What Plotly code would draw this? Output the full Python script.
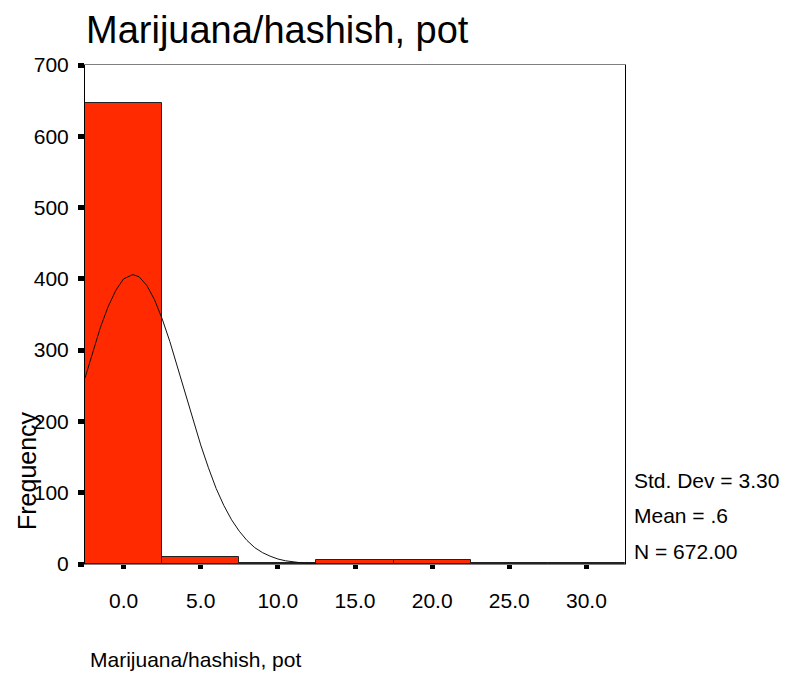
import plotly.graph_objects as go

# ---- data ----
bin_centers = [0.0, 5.0, 10.0, 15.0, 20.0, 25.0, 30.0]
frequencies = [646, 10, 2, 5, 5, 2, 2]
bin_width = 5.0

# normal curve
curve_x = [-2.5, -2.0, -1.5, -1.0, -0.5, 0.0, 0.6, 1.0, 1.5, 2.0, 2.5, 3.0, 3.5,
           4.0, 4.5, 5.0, 5.5, 6.0, 6.5, 7.0, 7.5, 8.0, 8.5, 9.0, 9.5, 10.0,
           10.5, 11.0, 11.5, 12.0, 12.5]
curve_y = [261, 298, 332, 361, 384, 400, 406, 403, 391, 371, 344, 312, 276,
           239, 202, 167, 135, 106, 82, 62, 46, 33, 23, 16, 11, 7,
           4.5, 2.8, 1.7, 1.0, 0.6]

x_ticks = [0, 5, 10, 15, 20, 25, 30]
x_tick_labels = ["0.0", "5.0", "10.0", "15.0", "20.0", "25.0", "30.0"]
y_ticks = [0, 100, 200, 300, 400, 500, 600, 700]

title_text = "Marijuana/hashish, pot"
x_title = "Marijuana/hashish, pot"
y_title = "Frequency"
stats_lines = ["Std. Dev = 3.30", "Mean = .6", "N = 672.00"]

FONT = "Liberation Sans, Arial, sans-serif"

fig = go.Figure()
fig.add_trace(go.Bar(
    x=bin_centers, y=frequencies, width=bin_width,
    marker=dict(color="#FF2A00", line=dict(color="#222222", width=1)),
    showlegend=False, hoverinfo="skip",
))
fig.add_trace(go.Scatter(
    x=curve_x, y=curve_y, mode="lines",
    line=dict(color="#111111", width=1),
    showlegend=False, hoverinfo="skip",
))

# page body has an 8px margin, so the figure is shrunk/shifted by that
OFF = 8
W, H = 800 - OFF, 679 - OFF
L, R, T, B = 85 - OFF, 175, 65 - OFF, 115
pw, ph = W - L - R, H - T - B

def px_to_paper_x(px):
    return (px - OFF - L) / pw

def px_to_paper_y(py):
    return (H - B - (py - OFF)) / ph

annotations = [
    dict(text=title_text, x=px_to_paper_x(85), y=px_to_paper_y(OFF),
         xref="paper", yref="paper", xanchor="left", yanchor="top",
         borderpad=0,
         showarrow=False, font=dict(family=FONT, size=38, color="black")),
    dict(text=x_title, x=px_to_paper_x(88), y=px_to_paper_y(659),
         xref="paper", yref="paper", xanchor="left", yanchor="middle",
         showarrow=False, font=dict(family=FONT, size=21, color="black")),
    dict(text=y_title, x=px_to_paper_x(27), y=px_to_paper_y(471),
         xref="paper", yref="paper", xanchor="center", yanchor="middle",
         textangle=-90, showarrow=False,
         font=dict(family=FONT, size=25, color="black")),
]
for line, py in zip(stats_lines, [480, 515, 551]):
    annotations.append(dict(
        text=line, x=px_to_paper_x(632), y=px_to_paper_y(py),
        xref="paper", yref="paper", xanchor="left", yanchor="middle",
        showarrow=False, font=dict(family=FONT, size=21, color="black")))

fig.update_layout(
    width=W, height=H,
    margin=dict(l=L, r=R, t=T, b=B, pad=0),
    paper_bgcolor="white", plot_bgcolor="white",
    bargap=0,
    font=dict(family=FONT, color="black"),
    annotations=annotations,
    xaxis=dict(
        range=[-2.5, 32.5], tickvals=x_ticks, ticktext=x_tick_labels,
        showgrid=False, zeroline=False,
        showline=True, linecolor="#808080", linewidth=1, mirror=True,
        ticks="outside", ticklen=4, tickwidth=5, tickcolor="black",
        ticklabelstandoff=14,
        tickfont=dict(family=FONT, size=21, color="black"),
    ),
    yaxis=dict(
        range=[0, 700], tickvals=y_ticks,
        showgrid=False, zeroline=False,
        showline=True, linecolor="black", linewidth=1, mirror=True,
        ticks="outside", ticklen=6, tickwidth=5, tickcolor="black",
        ticklabelstandoff=5,
        tickfont=dict(family=FONT, size=21, color="black"),
    ),
)

fig.write_html("out.html")
